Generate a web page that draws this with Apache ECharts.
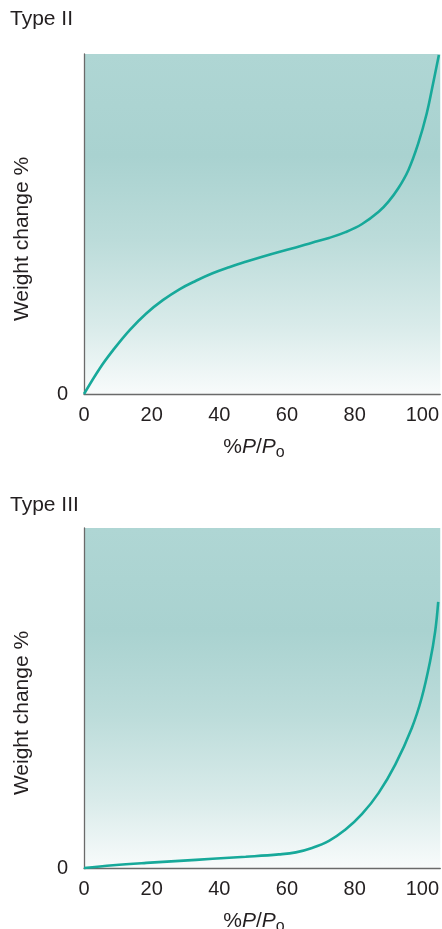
<!DOCTYPE html>
<html>
<head>
<meta charset="utf-8">
<script src="https://cdn.jsdelivr.net/npm/echarts@6/dist/echarts.min.js"></script>
<style>
html,body{margin:0;padding:0;background:#fff;}
#c{width:442px;height:929px;}
</style>
</head>
<body>
<div id="c"></div>
<script>
// ---- data ----
var panelTitles = ['Type II', 'Type III'];
var xTickValues = [0, 20, 40, 60, 80, 100];
var yTickLabels = ['0'];
var yAxisTitle = 'Weight change %';

var typeIIx = [0, 4.7, 8.6, 13.5, 18.4, 23.3, 28.2, 33.1, 38, 42.9, 47.8, 52.7, 57.6, 62.6, 67.4, 72.4, 77.3, 82.2, 87.1, 90, 92.9, 95.9, 98.8, 101.3, 103.2, 104.9];
var typeIIy = [0, 7.6, 12.9, 18.8, 23.7, 27.6, 30.8, 33.3, 35.5, 37.3, 38.9, 40.4, 41.8, 43.1, 44.5, 45.9, 47.6, 50, 53.6, 56.6, 60.5, 65.9, 73.7, 82.5, 91.4, 99.7];

var typeIIIx = [0, 8.6, 18.4, 28.2, 38, 47.8, 57.6, 62.6, 67.4, 72.4, 77.3, 82.2, 87.1, 92, 96.9, 99.8, 102.3, 103.8, 104.7];
var typeIIIy = [0, 0.8, 1.5, 2.1, 2.7, 3.3, 4.0, 4.6, 5.9, 8.0, 11.3, 15.9, 22.1, 30.4, 41.2, 50, 60.8, 69.6, 78.3];

function pairs(xs, ys) { return xs.map(function (x, i) { return [x, ys[i]]; }); }

var chart = echarts.init(document.getElementById('c'), null, {renderer: 'canvas'});
var textColor = '#231f20';
var axisColor = '#6a6a6a';
var lineColor = '#17a99a';
var fontFamily = '"Liberation Sans", Arial, Helvetica, sans-serif';

function bg() {
  return new echarts.graphic.LinearGradient(0, 0, 0, 1, [
    {offset: 0, color: '#afd6d4'},
    {offset: 0.3, color: '#a9d2d0'},
    {offset: 0.55, color: '#bcdcda'},
    {offset: 0.8, color: '#d9ebea'},
    {offset: 1, color: '#f8fbfb'}
  ]);
}

var grids = [
  {left: 84, top: 54, width: 358, height: 340},
  {left: 84, top: 528, width: 358, height: 340}
];

function xAxis(i) {
  return {
    type: 'value', gridIndex: i, min: 0, max: 105.3, interval: 20,
    axisLine: {show: true, lineStyle: {color: axisColor, width: 1.3}},
    axisTick: {show: false}, splitLine: {show: false},
    axisLabel: {
      color: textColor, fontSize: 20, fontFamily: fontFamily, margin: 11,
      showMaxLabel: false,
      formatter: function (v) { return xTickValues.indexOf(v) >= 0 ? String(v) : ''; }
    }
  };
}
function yAxis(i) {
  return {
    type: 'value', gridIndex: i, min: 0, max: 100, interval: 100,
    axisLine: {show: true, lineStyle: {color: axisColor, width: 1.3}},
    axisTick: {show: false}, splitLine: {show: false},
    axisLabel: {
      color: textColor, fontSize: 20, fontFamily: fontFamily, margin: 16,
      formatter: function (v) { return v === 0 ? yTickLabels[0] : ''; }
    }
  };
}

var graphics = [];
var offsets = [0, 474];
for (var k = 0; k < 2; k++) {
  graphics.push({
    type: 'text', left: 10, top: 9 + (k === 0 ? 0 : 486),
    style: {text: panelTitles[k], fill: textColor, font: '21px ' + fontFamily}
  });
  graphics.push({
    type: 'text', x: 22, y: 239 + offsets[k], rotation: Math.PI / 2,
    style: {text: yAxisTitle, fill: textColor, font: '21px ' + fontFamily, align: 'center', verticalAlign: 'middle'}
  });
  graphics.push({
    type: 'text', x: 254, y: 447 + offsets[k],
    style: {
      text: '{n|%}{i|P}{n|/}{i|P}{s|o}',
      align: 'center', verticalAlign: 'middle',
      rich: {
        n: {fontSize: 21, fontFamily: fontFamily, fill: textColor, color: textColor},
        i: {fontSize: 21, fontFamily: fontFamily, fontStyle: 'italic', fill: textColor, color: textColor},
        s: {fontSize: 16, fontFamily: fontFamily, fill: textColor, color: textColor, padding: [12, 0, 0, 0]}
      }
    }
  });
}

chart.setOption({
  animation: false,
  backgroundColor: '#ffffff',
  grid: grids.map(function (g) {
    return Object.assign({show: true, borderWidth: 0, backgroundColor: bg()}, g);
  }),
  xAxis: [xAxis(0), xAxis(1)],
  yAxis: [yAxis(0), yAxis(1)],
  series: [
    {type: 'line', xAxisIndex: 0, yAxisIndex: 0, data: pairs(typeIIx, typeIIy), smooth: 0.4, showSymbol: false, symbol: 'none', clip: false,
     lineStyle: {color: lineColor, width: 2.6}},
    {type: 'line', xAxisIndex: 1, yAxisIndex: 1, data: pairs(typeIIIx, typeIIIy), smooth: 0.4, showSymbol: false, symbol: 'none', clip: false,
     lineStyle: {color: lineColor, width: 2.6}}
  ],
  graphic: graphics
});
</script>
</body>
</html>
